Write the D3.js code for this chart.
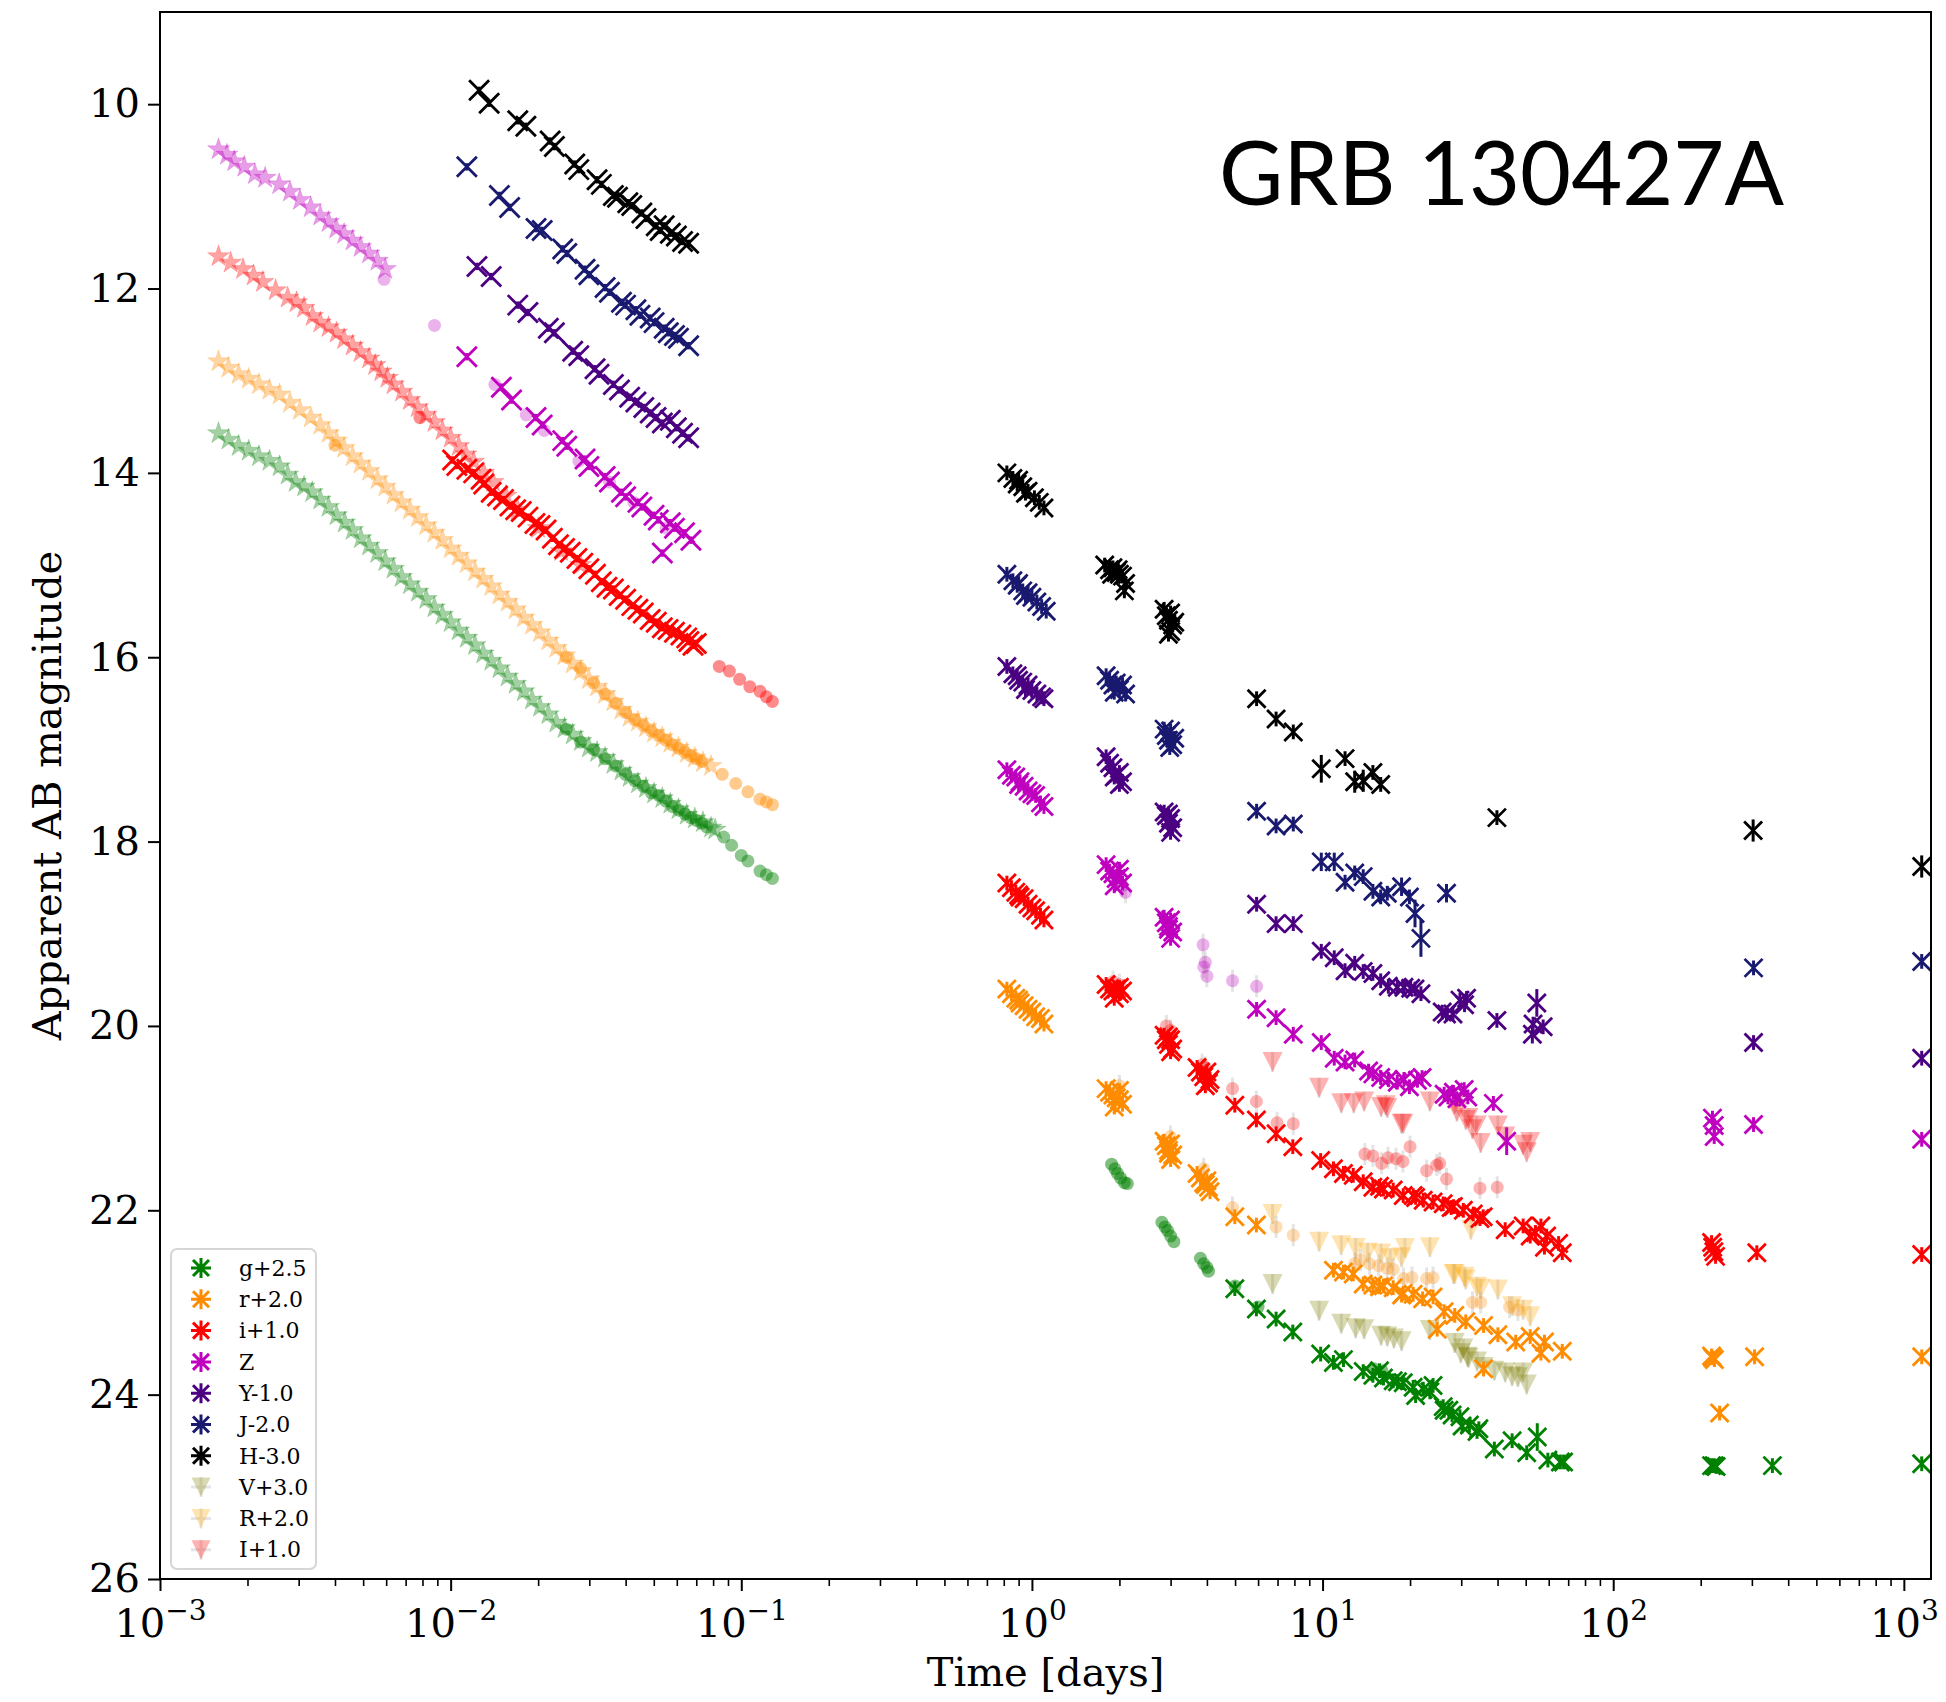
<!DOCTYPE html>
<html>
<head>
<meta charset="utf-8">
<script src="https://cdn.jsdelivr.net/npm/d3@7"></script>
<style>
  body { margin: 0; background: #fff; }
  svg { display: block; }
</style>
</head>
<body>
<div id="chart"></div>
<script>
// ---- data: [time in days, AB mag (+ optional error)] ----
// early (t < 0.15 d) star markers, semi transparent
const zStarEarly = [[1.59e-3,10.49],[1.7e-3,10.55],[1.8e-3,10.62],[1.95e-3,10.68],[2.12e-3,10.76],[2.3e-3,10.8],[2.57e-3,10.87],[2.8e-3,10.95],[3.03e-3,11.04],[3.3e-3,11.12],[3.56e-3,11.21],[3.8e-3,11.28],[4.04e-3,11.35],[4.3e-3,11.41],[4.6e-3,11.48],[4.9e-3,11.55],[5.24e-3,11.62],[5.6e-3,11.7],[5.96e-3,11.79]];
const iStarEarly = [[1.59e-3,11.65],[1.75e-3,11.72],[1.93e-3,11.79],[2.1e-3,11.86],[2.26e-3,11.93],[2.5e-3,12.02],[2.75e-3,12.1],[2.95e-3,12.15],[3.13e-3,12.21],[3.35e-3,12.3],[3.56e-3,12.37],[3.8e-3,12.42],[4.05e-3,12.48],[4.3e-3,12.55],[4.6e-3,12.62],[4.9e-3,12.69],[5.24e-3,12.76],[5.5e-3,12.83],[5.77e-3,12.9],[6.06e-3,12.97],[6.36e-3,13.04],[6.8e-3,13.12],[7.24e-3,13.21],[7.7e-3,13.29],[8.24e-3,13.37],[8.8e-3,13.45],[9.37e-3,13.54],[1.0e-2,13.62],[1.066e-2,13.71],[1.13e-2,13.8],[1.2e-2,13.88],[1.3e-2,14.0],[1.4e-2,14.1],[1.55e-2,14.25],[1.7e-2,14.4],[2.0e-2,14.6],[2.4e-2,14.85],[2.8e-2,15.0]];
const rStarEarly = [[1.59e-3,12.79],[1.72e-3,12.86],[1.865e-3,12.93],[2.02e-3,12.98],[2.19e-3,13.04],[2.38e-3,13.1],[2.58e-3,13.15],[2.8e-3,13.24],[3.03e-3,13.32],[3.3e-3,13.4],[3.56e-3,13.48],[3.8e-3,13.57],[4.05e-3,13.65],[4.3e-3,13.73],[4.6e-3,13.82],[4.9e-3,13.9],[5.24e-3,13.98],[5.6e-3,14.07],[5.96e-3,14.15],[6.36e-3,14.24],[6.78e-3,14.32],[7.24e-3,14.4],[7.72e-3,14.48],[8.24e-3,14.57],[8.79e-3,14.65],[9.37e-3,14.73],[1.0e-2,14.82],[1.066e-2,14.9],[1.137e-2,14.98],[1.213e-2,15.07],[1.294e-2,15.15],[1.38e-2,15.23],[1.472e-2,15.32],[1.57e-2,15.4],[1.674e-2,15.48],[1.786e-2,15.57],[1.905e-2,15.65],[2.03e-2,15.73],[2.168e-2,15.82],[2.31e-2,15.9],[2.466e-2,15.98],[2.63e-2,16.07],[2.805e-2,16.15],[2.99e-2,16.24],[3.19e-2,16.32],[3.4e-2,16.4],[3.63e-2,16.48],[3.87e-2,16.57],[4.13e-2,16.65],[4.41e-2,16.7],[4.7e-2,16.76],[5.01e-2,16.82],[5.35e-2,16.87],[5.7e-2,16.93],[6.08e-2,16.98],[6.49e-2,17.04],[6.92e-2,17.09],[7.38e-2,17.14],[7.87e-2,17.18]];
const gStarEarly = [[1.59e-3,13.57],[1.72e-3,13.64],[1.865e-3,13.71],[2.02e-3,13.76],[2.19e-3,13.82],[2.38e-3,13.87],[2.58e-3,13.93],[2.75e-3,14.02],[2.93e-3,14.1],[3.13e-3,14.15],[3.34e-3,14.21],[3.56e-3,14.29],[3.8e-3,14.37],[4.05e-3,14.46],[4.32e-3,14.54],[4.6e-3,14.62],[4.91e-3,14.71],[5.24e-3,14.79],[5.59e-3,14.87],[5.96e-3,14.96],[6.36e-3,15.04],[6.78e-3,15.13],[7.24e-3,15.21],[7.72e-3,15.29],[8.24e-3,15.37],[8.79e-3,15.46],[9.37e-3,15.54],[1.0e-2,15.62],[1.066e-2,15.71],[1.137e-2,15.79],[1.213e-2,15.87],[1.294e-2,15.96],[1.38e-2,16.04],[1.472e-2,16.12],[1.57e-2,16.21],[1.674e-2,16.29],[1.786e-2,16.37],[1.905e-2,16.46],[2.03e-2,16.54],[2.168e-2,16.62],[2.31e-2,16.71],[2.466e-2,16.77],[2.63e-2,16.84],[2.805e-2,16.91],[2.99e-2,16.98],[3.19e-2,17.03],[3.4e-2,17.09],[3.63e-2,17.16],[3.87e-2,17.23],[4.13e-2,17.3],[4.41e-2,17.37],[4.7e-2,17.42],[5.01e-2,17.48],[5.35e-2,17.53],[5.7e-2,17.59],[6.08e-2,17.65],[6.49e-2,17.71],[6.92e-2,17.75],[7.38e-2,17.79],[7.87e-2,17.85],[8.13e-2,17.87]];

// early circle markers
const zCircEarly = [[5.9e-3,11.9],[8.8e-3,12.4],[1.42e-2,13.04],[1.82e-2,13.37],[2.1e-2,13.54],[2.76e-2,13.87],[3.52e-2,14.1],[4.27e-2,14.32],[5.52e-2,14.6]];
const iCircEarly = [[7.84e-3,13.4],[8.4e-2,16.1],[9.1e-2,16.15],[9.87e-2,16.24],[0.107,16.32],[0.116,16.37],[0.122,16.43],[0.128,16.48]];
const rCircEarly = [[4.0e-3,13.7],[2.5e-2,16.0],[2.8e-2,16.12],[3.1e-2,16.28],[3.4e-2,16.4],[3.7e-2,16.5],[4.0e-2,16.6],[4.3e-2,16.68],[4.6e-2,16.74],[4.9e-2,16.8],[5.2e-2,16.85],[5.5e-2,16.9],[5.8e-2,16.95],[6.1e-2,16.99],[6.4e-2,17.03],[6.7e-2,17.07],[7.0e-2,17.1],[7.3e-2,17.13],[8.6e-2,17.27],[9.57e-2,17.37],[0.1054,17.46],[0.116,17.54],[0.122,17.57],[0.128,17.6]];
const gCircEarly = [[2.5e-2,16.78],[2.8e-2,16.92],[3.1e-2,17.0],[3.4e-2,17.1],[3.7e-2,17.18],[4.0e-2,17.27],[4.3e-2,17.34],[4.6e-2,17.4],[4.9e-2,17.47],[5.2e-2,17.5],[5.5e-2,17.56],[5.8e-2,17.62],[6.1e-2,17.66],[6.4e-2,17.7],[6.7e-2,17.74],[7.0e-2,17.77],[7.3e-2,17.8],[7.6e-2,17.84],[8.7e-2,17.95],[9.26e-2,18.04],[0.1,18.15],[0.1054,18.21],[0.116,18.32],[0.122,18.36],[0.128,18.4]];

// early x markers
const hEarly = [[1.253e-2,9.85],[1.357e-2,9.99],[1.702e-2,10.18],[1.815e-2,10.24],[2.2e-2,10.4],[2.275e-2,10.46],[2.673e-2,10.65],[2.76e-2,10.71],[3.19e-2,10.82],[3.3e-2,10.87],[3.63e-2,10.99],[3.75e-2,11.01],[4.07e-2,11.07],[4.2e-2,11.1],[4.55e-2,11.18],[4.7e-2,11.24],[5.1e-2,11.32],[5.26e-2,11.37],[5.43e-2,11.32],[5.7e-2,11.4],[5.98e-2,11.43],[6.28e-2,11.49],[6.59e-2,11.51]];
const jEarly = [[1.137e-2,10.68],[1.472e-2,10.99],[1.596e-2,11.12],[1.967e-2,11.35],[2.065e-2,11.37],[2.43e-2,11.57],[2.51e-2,11.62],[2.9e-2,11.79],[2.99e-2,11.85],[3.4e-2,11.99],[3.52e-2,12.04],[3.87e-2,12.15],[4.0e-2,12.18],[4.34e-2,12.23],[4.48e-2,12.29],[4.86e-2,12.32],[5.01e-2,12.37],[5.43e-2,12.43],[5.61e-2,12.48],[5.89e-2,12.51],[6.08e-2,12.54],[6.59e-2,12.62]];
const yEarly = [[1.232e-2,11.76],[1.379e-2,11.87],[1.702e-2,12.18],[1.845e-2,12.26],[2.168e-2,12.43],[2.275e-2,12.48],[2.63e-2,12.68],[2.76e-2,12.73],[3.14e-2,12.87],[3.24e-2,12.93],[3.63e-2,13.04],[3.81e-2,13.1],[4.13e-2,13.18],[4.34e-2,13.23],[4.62e-2,13.29],[4.86e-2,13.35],[5.09e-2,13.4],[5.35e-2,13.46],[5.7e-2,13.43],[5.98e-2,13.51],[6.28e-2,13.57],[6.59e-2,13.62]];
const zEarly = [[1.137e-2,12.74],[1.495e-2,13.07],[1.62e-2,13.21],[1.967e-2,13.4],[2.065e-2,13.48],[2.43e-2,13.65],[2.51e-2,13.71],[2.9e-2,13.85],[2.99e-2,13.93],[3.4e-2,14.04],[3.52e-2,14.1],[3.87e-2,14.21],[4.0e-2,14.26],[4.41e-2,14.32],[4.55e-2,14.37],[5.01e-2,14.46],[5.18e-2,14.51],[5.35e-2,14.87],[5.7e-2,14.54],[5.89e-2,14.6],[6.38e-2,14.65],[6.71e-2,14.73]];
const iEarly = [[1.016e-2,13.86],[1.05e-2,13.92],[1.137e-2,13.96],[1.2e-2,14.0],[1.273e-2,14.07],[1.3e-2,14.12],[1.379e-2,14.21],[1.45e-2,14.25],[1.52e-2,14.29],[1.6e-2,14.36],[1.674e-2,14.4],[1.75e-2,14.42],[1.845e-2,14.48],[1.95e-2,14.55],[2.03e-2,14.57],[2.13e-2,14.62],[2.239e-2,14.71],[2.35e-2,14.78],[2.466e-2,14.82],[2.58e-2,14.86],[2.72e-2,14.93],[2.85e-2,14.98],[2.99e-2,15.04],[3.15e-2,15.1],[3.3e-2,15.18],[3.45e-2,15.24],[3.63e-2,15.26],[3.8e-2,15.33],[4.0e-2,15.37],[4.2e-2,15.44],[4.41e-2,15.48],[4.6e-2,15.52],[4.86e-2,15.59],[5.1e-2,15.62],[5.35e-2,15.68],[5.6e-2,15.7],[5.89e-2,15.73],[6.2e-2,15.76],[6.49e-2,15.79],[6.6e-2,15.83],[6.82e-2,15.87],[7.0e-2,15.85]];

// late x markers with error bars
const hLate = [[0.82,14.0],[0.86,14.06],[0.89,14.12],[0.9,14.08],[0.93,14.15],[0.95,14.22],[0.97,14.2],[1.02,14.27],[1.06,14.32],[1.1,14.38],[1.78,15.0],[1.85,15.05],[1.88,15.1],[1.9,15.03],[1.95,15.08],[1.98,15.05],[2.0,15.1],[2.05,15.12],[2.08,15.28],[2.1,15.2],[2.85,15.48],[2.9,15.55],[2.95,15.6],[2.95,15.75],[3.0,15.52],[3.0,15.72],[3.05,15.65],[3.1,15.62],[5.93,16.45],[6.92,16.67],[7.93,16.81],[9.9,17.21,0.15],[11.95,17.1],[12.9,17.35,0.12],[13.8,17.34,0.12],[14.9,17.25],[15.85,17.38],[39.8,17.74],[303,17.88,0.12],[1152,18.27,0.12]];
const jLate = [[0.82,15.1],[0.86,15.17],[0.89,15.22],[0.9,15.2],[0.93,15.28],[0.95,15.33],[0.97,15.3],[1.0,15.35],[1.04,15.4],[1.08,15.45],[1.12,15.5],[1.8,16.2],[1.85,16.25],[1.9,16.3],[1.92,16.38],[1.95,16.28],[2.0,16.35],[2.05,16.3],[2.1,16.4],[2.85,16.78],[2.9,16.85],[2.95,16.9],[2.98,16.98],[3.0,16.8],[3.05,16.95],[3.1,16.88],[5.93,17.67],[6.92,17.83],[7.93,17.81],[9.9,18.22,0.1],[10.97,18.22,0.1],[11.95,18.44],[12.9,18.34],[13.8,18.38],[14.9,18.54],[15.85,18.6],[16.7,18.56],[18.7,18.49,0.1],[19.9,18.6],[20.8,18.78,0.15],[21.8,19.05,0.2],[26.7,18.56,0.1],[304,19.37],[1152,19.3]];
const yLate = [[0.82,16.1],[0.86,16.18],[0.89,16.2],[0.9,16.25],[0.93,16.27],[0.95,16.35],[0.97,16.3],[1.0,16.36],[1.04,16.4],[1.08,16.43],[1.1,16.45],[1.8,17.08],[1.85,17.15],[1.9,17.2],[1.92,17.3],[1.95,17.28],[2.0,17.25],[2.0,17.38],[2.05,17.35],[2.85,17.68],[2.9,17.72],[2.95,17.8],[2.95,17.7],[3.0,17.75],[3.0,17.9],[3.05,17.85],[5.93,18.68],[6.92,18.89],[7.93,18.89],[9.9,19.19],[10.97,19.26],[11.95,19.4],[12.9,19.32],[13.8,19.41],[14.9,19.43],[15.85,19.51],[16.84,19.57],[18.07,19.58],[19.06,19.58],[20.1,19.59],[20.8,19.6],[21.8,19.65],[25.8,19.85],[26.7,19.87],[28.1,19.87],[29.7,19.72],[30.8,19.77],[31.3,19.7],[39.8,19.94],[52.7,20.09,0.1],[53,19.98],[54.6,19.75,0.15],[57.4,20.01],[304,20.18],[1152,20.35]];
const zLate = [[0.82,17.22],[0.85,17.28],[0.88,17.3],[0.9,17.38],[0.91,17.35],[0.94,17.4],[0.97,17.45],[1.0,17.48],[1.03,17.5],[1.07,17.58],[1.1,17.62],[1.8,18.25],[1.85,18.32],[1.9,18.35],[1.92,18.48],[1.95,18.4],[2.0,18.38],[2.0,18.3],[2.05,18.45],[2.85,18.82],[2.9,18.88],[2.95,18.92],[2.95,18.95],[3.0,18.85],[3.0,19.05],[3.05,18.98],[5.93,19.82],[6.92,19.91],[7.93,20.09],[9.9,20.18],[10.97,20.35],[11.95,20.39],[12.9,20.37],[14.4,20.49],[14.9,20.52],[15.85,20.56],[16.84,20.58],[18.07,20.61],[19.06,20.58],[19.9,20.66],[21.2,20.59],[22.0,20.56],[26.2,20.74],[27.0,20.77],[28.2,20.72],[29.0,20.79],[30.7,20.69],[31.6,20.77],[38.7,20.84],[43.0,21.25,0.15],[219.5,21.0],[222.6,21.08],[222.6,21.2],[304,21.07],[1152,21.23]];
const iLate = [[0.82,18.45],[0.85,18.5],[0.88,18.55],[0.9,18.58],[0.91,18.6],[0.94,18.62],[0.97,18.68],[1.0,18.72],[1.03,18.75],[1.07,18.8],[1.1,18.85],[1.8,19.55],[1.85,19.6],[1.9,19.62],[1.92,19.7],[1.95,19.6],[2.0,19.65],[2.0,19.58],[2.05,19.62],[2.85,20.1],[2.9,20.15],[2.95,20.2],[2.95,20.12],[3.0,20.15],[3.0,20.28],[3.05,20.25],[3.7,20.45],[3.8,20.5],[3.9,20.55],[3.95,20.65],[4.0,20.5],[4.05,20.62],[4.1,20.58],[4.99,20.86],[5.92,21.02],[6.92,21.17],[7.9,21.31],[9.85,21.46],[10.9,21.55],[11.8,21.6],[12.75,21.62],[13.8,21.69],[14.9,21.75],[15.7,21.74],[16.2,21.77],[17.5,21.78],[18.95,21.84],[20.5,21.84],[20.9,21.86],[22.2,21.89],[24.0,21.91],[26.0,21.93],[27.7,21.97],[28.2,21.96],[30.5,22.0],[33.0,22.04],[34.8,22.09],[35.7,22.07],[42.5,22.21],[49.0,22.17],[51.8,22.28],[54,22.24],[56.4,22.17],[58.0,22.4],[59,22.28],[64.9,22.36],[66.8,22.46],[218,22.35],[220,22.4],[222,22.45],[225,22.5],[312,22.46],[1152,22.48]];
const rLate = [[0.82,19.6],[0.85,19.65],[0.88,19.7],[0.9,19.72],[0.91,19.75],[0.94,19.78],[0.97,19.82],[1.0,19.85],[1.03,19.9],[1.07,19.92],[1.1,19.98],[1.8,20.68],[1.85,20.72],[1.9,20.75],[1.92,20.88],[1.95,20.78],[2.0,20.8],[2.0,20.7],[2.05,20.85],[2.85,21.25],[2.9,21.3],[2.95,21.35],[2.95,21.38],[3.0,21.28],[3.0,21.45],[3.05,21.4],[3.7,21.6],[3.8,21.65],[3.9,21.7],[3.95,21.72],[4.0,21.68],[4.05,21.75],[4.1,21.8],[4.99,22.07],[5.92,22.16],[10.9,22.65],[11.8,22.67],[12.75,22.69],[13.8,22.8],[14.9,22.81],[15.7,22.83],[16.2,22.82],[17.5,22.84],[18.7,22.92],[18.95,22.9],[20.5,22.91],[22.1,22.96],[24.0,22.94],[24.8,23.29],[26.2,23.1],[28.5,23.14],[31.1,23.21],[35.8,23.25],[35.8,23.72],[40.1,23.35],[46.2,23.43],[51.8,23.37],[56.4,23.55],[58.0,23.43],[66.8,23.53],[218,23.58],[220,23.6],[223,23.62],[232.4,24.2],[306.5,23.59],[1152,23.59]];
const gLate = [[4.99,22.85],[5.92,23.07],[6.92,23.18],[7.9,23.32],[9.85,23.56],[10.9,23.65],[11.8,23.62],[13.8,23.75],[14.9,23.79],[15.7,23.74],[16.2,23.82],[17.5,23.85],[18.1,23.86],[18.95,23.87],[20.5,23.92],[20.9,24.01],[22.2,23.94],[23.4,23.97],[24.0,23.9],[26.0,24.13],[26.2,24.17],[27.2,24.17],[27.9,24.22],[29.7,24.24],[30.2,24.34],[32.0,24.33],[34.0,24.4],[34.5,24.37],[39.0,24.59],[44.9,24.5],[50.4,24.63],[54.8,24.46,0.15],[59.6,24.71],[65.8,24.73],[67.5,24.73],[218,24.77],[222.6,24.77],[226,24.78],[353,24.77],[1152,24.75]];

// late circle markers
const zCircLate = [[2.1,18.55],[2.05,18.48],[3.88,19.12],[3.95,19.31],[3.9,19.36],[4.0,19.46],[4.9,19.51],[5.93,19.57]];
const iCircLate = [[1.9,19.52],[2.0,19.55],[2.9,20.0],[3.0,20.05],[3.85,20.42],[3.95,20.45],[4.9,20.68],[5.92,20.82],[6.97,21.05],[7.93,21.06],[13.98,21.39],[14.9,21.41],[15.96,21.49],[16.8,21.43],[17.9,21.44],[18.9,21.47],[20,21.31],[22.8,21.57],[24.7,21.51],[25.3,21.49],[26.7,21.66],[34.8,21.76],[39.9,21.75]];
const rCircLate = [[2.0,20.65],[3.0,21.2],[3.9,21.55],[4.9,21.97],[6.92,22.18],[7.93,22.27],[12.9,22.58],[13.5,22.54],[14.5,22.58],[15.6,22.6],[16.7,22.63],[17.5,22.64],[19,22.74],[20.3,22.73],[22.8,22.74],[24,22.73],[32.8,23.0],[35,23.0],[44,23.05],[47,23.08]];
const gCircLate = [[1.88,21.5],[1.93,21.55],[1.97,21.6],[2.02,21.65],[2.08,21.7],[2.13,21.71],[2.8,22.13],[2.87,22.18],[2.93,22.22],[3.0,22.28],[3.08,22.34],[3.8,22.52],[3.9,22.58],[4.0,22.62],[4.05,22.66],[5.0,22.82],[6.0,23.05],[15,23.72],[16,23.74]];

// triangle markers (V, R, I)
const iTri = [[6.73,20.39],[9.73,20.67],[11.6,20.84],[12.8,20.84],[13.9,20.82],[15.9,20.88],[16.5,20.86],[16.7,20.89],[18.7,21.06],[18.95,21.06],[23.4,20.82],[28.5,20.85],[29,20.93],[31.1,21.02],[31.8,21.0],[32.8,21.12],[33.9,21.08],[35,21.27],[40.1,21.08],[42.5,21.2],[49,21.29],[50.4,21.37],[51.8,21.26]];
const rTri = [[6.73,22.04],[9.73,22.34],[11.6,22.38],[13.0,22.41],[14.3,22.46],[15.9,22.47],[17.1,22.52],[18.7,22.51],[19.2,22.41],[23.4,22.4],[28.2,22.69],[28.5,22.69],[30.8,22.72],[31.1,22.75],[32.4,22.21],[34,22.83],[35,22.85],[40.1,22.86],[44.9,23.04],[49,23.08],[51.8,23.15]];
const vTri = [[6.73,22.8],[9.73,23.09],[11.6,23.23],[13.0,23.28],[13.9,23.29],[15.9,23.36],[16.7,23.37],[17.6,23.39],[18.7,23.42],[23.4,23.3],[28.5,23.44],[29.9,23.55],[30.5,23.5],[31.5,23.59],[31.8,23.6],[34,23.64],[35.8,23.7],[39,23.74],[42.5,23.76],[44.9,23.8],[47,23.81],[49,23.76],[50.4,23.89]];

const legendLabels = ["g+2.5", "r+2.0", "i+1.0", "Z", "Y-1.0", "J-2.0", "H-3.0", "V+3.0", "R+2.0", "I+1.0"];
const legendColors = ["#008000", "#ff8c00", "#ff0000", "#bf00bf", "#4b0082", "#191970", "#000000", "#808000", "#ffa500", "#ff0000"];
const yTicks = [10, 12, 14, 16, 18, 20, 22, 24, 26];
const xDecades = [-3, -2, -1, 0, 1, 2, 3];

const color = { g: "#008000", r: "#ff8c00", i: "#ff0000", Z: "#bf00bf", Y: "#4b0082", J: "#191970", H: "#000000", V: "#808000", R: "#ffa500", I: "#ff0000" };

const width = 1946, height = 1702;
const margin = { top: 12, right: 15, bottom: 123, left: 160 };
const serif = "'DejaVu Serif', serif";

const x = d3.scaleLog().domain([1e-3, 1240]).range([margin.left, width - margin.right]);
const y = d3.scaleLinear().domain([9, 26]).range([margin.top, height - margin.bottom]);

const svg = d3.select("#chart").append("svg")
  .attr("width", width).attr("height", height)
  .style("background", "#fff");

const plot = svg.append("g");

function stars(data, c, alpha) {
  plot.append("g").selectAll("path").data(data).join("path")
    .attr("transform", d => `translate(${x(d[0])},${y(d[1])})`)
    .attr("d", d3.symbol(d3.symbolStar, 150))
    .attr("fill", c).attr("fill-opacity", alpha)
    .attr("stroke", c).attr("stroke-opacity", alpha * 0.5).attr("stroke-width", 1);
}

function circles(data, c, alpha, bars) {
  const g = plot.append("g");
  if (bars) {
    g.selectAll("line").data(data).join("line")
      .attr("x1", d => x(d[0])).attr("x2", d => x(d[0]))
      .attr("y1", d => y(d[1] - 0.12)).attr("y2", d => y(d[1] + 0.12))
      .attr("stroke", "#bbb").attr("stroke-opacity", 0.4).attr("stroke-width", 3);
  }
  g.selectAll("circle").data(data).join("circle")
    .attr("cx", d => x(d[0])).attr("cy", d => y(d[1])).attr("r", 6.5)
    .attr("fill", c).attr("fill-opacity", alpha);
}

function triangles(data, c, alpha) {
  const g = plot.append("g");
  const h = 10;
  g.selectAll("line").data(data).join("line")
    .attr("x1", d => x(d[0])).attr("x2", d => x(d[0]))
    .attr("y1", d => y(d[1]) - h).attr("y2", d => y(d[1]) + h)
    .attr("stroke", "#999").attr("stroke-opacity", 0.25).attr("stroke-width", 3);
  g.selectAll("path").data(data).join("path")
    .attr("transform", d => `translate(${x(d[0])},${y(d[1])})`)
    .attr("d", `M${-h},${-h}L${h},${-h}L0,${h}Z`)
    .attr("fill", c).attr("fill-opacity", alpha);
}

function crosses(data, c, half, defErr) {
  const g = plot.append("g").attr("stroke", c).attr("fill", "none");
  g.selectAll("line").data(data).join("line")
    .attr("x1", d => x(d[0])).attr("x2", d => x(d[0]))
    .attr("y1", d => y(d[1] - (d[2] || defErr))).attr("y2", d => y(d[1] + (d[2] || defErr)))
    .attr("stroke-width", 3);
  g.selectAll("path").data(data).join("path")
    .attr("d", d => {
      const px = x(d[0]), py = y(d[1]);
      return `M${px - half},${py - half}L${px + half},${py + half}M${px - half},${py + half}L${px + half},${py - half}`;
    })
    .attr("stroke-width", 2.8);
}

// early light curves
stars(zStarEarly, color.Z, 0.38);
stars(iStarEarly, color.i, 0.36);
stars(rStarEarly, color.r, 0.36);
stars(gStarEarly, color.g, 0.36);
circles(zCircEarly, color.Z, 0.3, false);
circles(iCircEarly, color.i, 0.45, false);
circles(rCircEarly, color.r, 0.45, false);
circles(gCircEarly, color.g, 0.45, false);

// late circles and triangles
circles(zCircLate, color.Z, 0.3, true);
circles(iCircLate, color.i, 0.3, true);
circles(rCircLate, color.r, 0.3, true);
circles(gCircLate, color.g, 0.5, false);
triangles(iTri, color.I, 0.3);
triangles(rTri, color.R, 0.3);
triangles(vTri, color.V, 0.3);

// x markers
crosses(hEarly, color.H, 10, 0.04);
crosses(jEarly, color.J, 10, 0.04);
crosses(yEarly, color.Y, 10, 0.04);
crosses(zEarly, color.Z, 10, 0.04);
crosses(iEarly, color.i, 10, 0.04);
crosses(hLate, color.H, 9, 0.08);
crosses(jLate, color.J, 9, 0.08);
crosses(yLate, color.Y, 9, 0.08);
crosses(zLate, color.Z, 9, 0.08);
crosses(iLate, color.i, 9, 0.08);
crosses(rLate, color.r, 9, 0.08);
crosses(gLate, color.g, 9, 0.08);

// axes
const x0 = margin.left, x1 = width - margin.right, y0 = margin.top, y1 = height - margin.bottom;

const minor = [];
xDecades.forEach(e => { for (let k = 2; k <= 9; k++) { const v = k * Math.pow(10, e); if (v <= 1240) minor.push(v); } });

svg.append("g")
  .attr("transform", `translate(0,${y1})`)
  .call(d3.axisBottom(x).tickValues(minor).tickSize(7).tickFormat(""))
  .call(g => g.select(".domain").remove())
  .call(g => g.selectAll("line").attr("stroke", "#000").attr("stroke-width", 1.6));

const xAx = svg.append("g")
  .attr("transform", `translate(0,${y1})`)
  .call(d3.axisBottom(x).tickValues(xDecades.map(e => Math.pow(10, e))).tickSize(12).tickFormat(""))
  .call(g => g.select(".domain").remove())
  .call(g => g.selectAll("line").attr("stroke", "#000").attr("stroke-width", 2));

xAx.selectAll(".tick").append("text")
  .attr("y", 58).attr("fill", "#000")
  .attr("text-anchor", "middle")
  .style("font-family", serif).style("font-size", "40px")
  .each(function(d) {
    const t = d3.select(this);
    const e = Math.round(Math.log10(d));
    t.append("tspan").text("10");
    t.append("tspan").attr("dy", -17).style("font-size", "28px").text(e < 0 ? "\u2212" + (-e) : String(e));
  });

svg.append("g")
  .attr("transform", `translate(${x0},0)`)
  .call(d3.axisLeft(y).tickValues(yTicks).tickSize(12).tickPadding(8).tickFormat(d3.format("d")))
  .call(g => g.select(".domain").remove())
  .call(g => g.selectAll("line").attr("stroke", "#000").attr("stroke-width", 2))
  .call(g => g.selectAll("text").attr("fill", "#000").style("font-family", serif).style("font-size", "40px"));

svg.append("rect")
  .attr("x", x0).attr("y", y0).attr("width", x1 - x0).attr("height", y1 - y0)
  .attr("fill", "none").attr("stroke", "#000").attr("stroke-width", 2);

svg.append("text")
  .attr("x", (x0 + x1) / 2).attr("y", 1686)
  .attr("text-anchor", "middle")
  .style("font-family", serif).style("font-size", "40px")
  .text("Time [days]");

svg.append("text")
  .attr("transform", `translate(61,${(y0 + y1) / 2}) rotate(-90)`)
  .attr("text-anchor", "middle")
  .style("font-family", serif).style("font-size", "40px")
  .text("Apparent AB magnitude");

svg.append("text")
  .attr("x", 1219).attr("y", 205)
  .attr("textLength", 565).attr("lengthAdjust", "spacingAndGlyphs")
  .style("font-family", "Lato, 'Noto Sans', sans-serif").style("font-size", "90px")
  .text("GRB 130427A");

// legend
const leg = svg.append("g");
leg.append("rect")
  .attr("x", 171).attr("y", 1249).attr("width", 145).attr("height", 320).attr("rx", 6)
  .attr("fill", "#fff").attr("fill-opacity", 0.8)
  .attr("stroke", "#d6d6d6").attr("stroke-width", 2);

const rows = leg.selectAll("g.row").data(legendLabels).join("g")
  .attr("class", "row")
  .attr("transform", (d, i) => `translate(201,${1268 + i * 31.3})`);

rows.each(function(d, i) {
  const g = d3.select(this);
  const c = legendColors[i];
  if (i < 7) {
    g.append("path")
      .attr("d", "M-8,-8L8,8M-8,8L8,-8M-10,0L10,0M0,-10L0,10")
      .attr("stroke", c).attr("stroke-width", 3);
  } else {
    g.append("path").attr("d", "M-10,0L10,0M0,-10L0,10")
      .attr("stroke", "#999").attr("stroke-opacity", 0.25).attr("stroke-width", 3);
    g.append("path").attr("d", "M-9.5,-9.5L9.5,-9.5L0,9.5Z")
      .attr("fill", c).attr("fill-opacity", 0.3);
  }
  g.append("text")
    .attr("x", 38).attr("dy", "0.35em")
    .style("font-family", serif).style("font-size", "22px")
    .text(d);
});
</script>
</body>
</html>
